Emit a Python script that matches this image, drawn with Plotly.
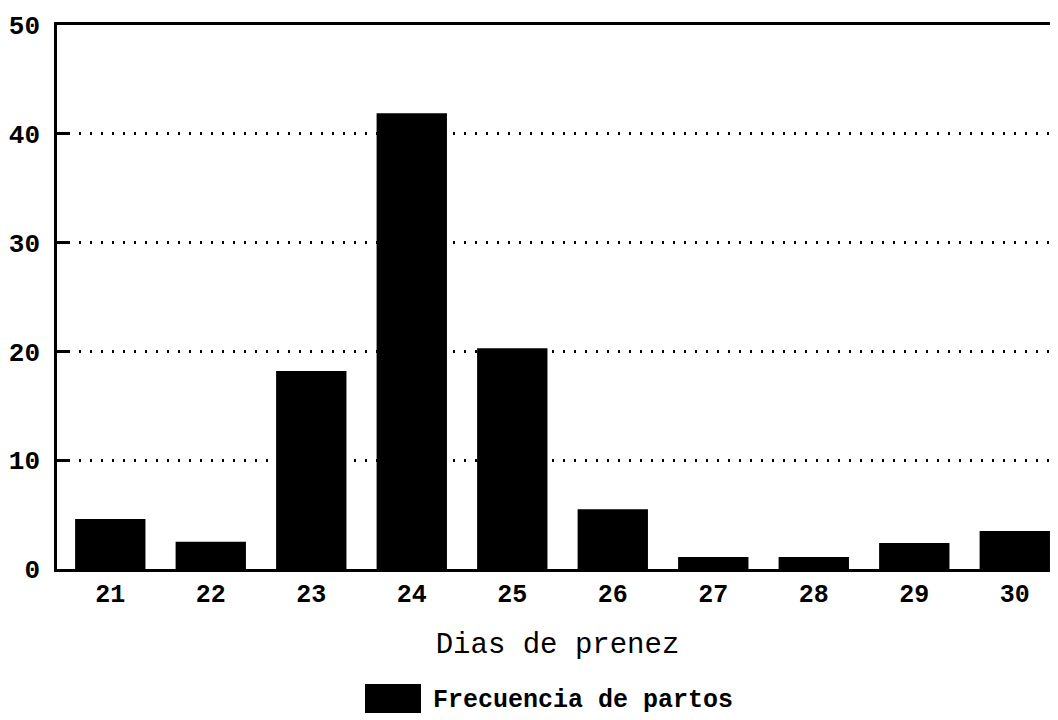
import plotly.graph_objects as go

dias = [21, 22, 23, 24, 25, 26, 27, 28, 29, 30]
frecuencia = [4.6, 2.5, 18.2, 41.9, 20.3, 5.5, 1.1, 1.1, 2.4, 3.5]
y_ticks = [0, 10, 20, 30, 40, 50]
serie = "Frecuencia de partos"
x_title = "Dias de prenez"

mono = "Liberation Mono, DejaVu Sans Mono, monospace"

# the page body adds an 8px offset; compensate so the plot lands where the reference has it
off = 8
W, H = 1058 - off, 720 - off
L, T, B = 57 - off, 25 - off, 151
pw, ph = W - L, H - T - B
y0px = 720 - B  # pixel row of the x axis in the final picture

fig = go.Figure()
fig.add_trace(go.Bar(x=dias, y=frecuencia, name=serie, marker=dict(color="black", line=dict(width=0)),
                     showlegend=False))

fig.update_layout(
    width=W, height=H,
    margin=dict(l=L, r=0, t=T, b=B, autoexpand=False),
    plot_bgcolor="white", paper_bgcolor="white",
    bargap=0.3,
    font=dict(family=mono, color="black"),
    xaxis=dict(range=[20.47, 30.43], tickvals=dias, ticktext=[str(d) for d in dias],
               showline=True, linecolor="black", linewidth=2.5, mirror=True,
               showgrid=False, ticks="", zeroline=False, automargin=False,
               tickfont=dict(size=25, family=mono, weight="bold"),
               title=dict(text=x_title, font=dict(size=29, family=mono), standoff=24)),
    yaxis=dict(range=[0, 50], tickvals=y_ticks, showline=True, linecolor="black", linewidth=2.5,
               showgrid=True, gridcolor="black", griddash="2px,9px", gridwidth=2.5, automargin=False,
               ticks="inside", ticklen=12, tickwidth=2.5, tickcolor="black", zeroline=False,
               tickfont=dict(size=26, family=mono, weight="bold"), ticklabelstandoff=9),
)

# legend swatch and label
fig.add_shape(type="rect", xref="paper", yref="paper",
              x0=(365 - 57) / pw, x1=(421 - 57) / pw,
              y0=-(713 - y0px) / ph, y1=-(684 - y0px) / ph,
              fillcolor="black", line=dict(width=0))
fig.add_annotation(text=serie, xref="paper", yref="paper", showarrow=False,
                   x=(431 - 57) / pw, y=-(700 - y0px) / ph, xanchor="left", yanchor="middle",
                   font=dict(size=25, family=mono, weight="bold", color="black"))

fig.write_html("out.html")
